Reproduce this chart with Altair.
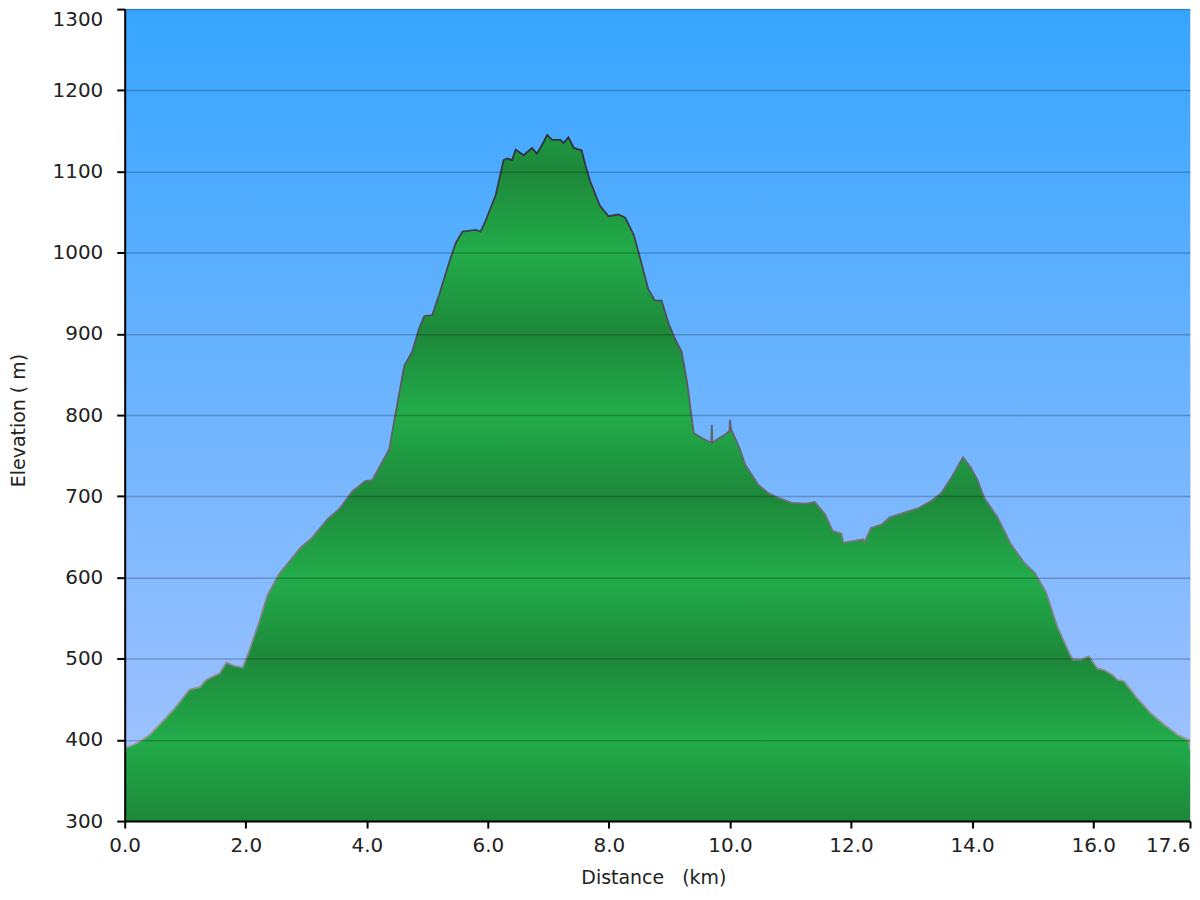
import altair as alt
import pandas as pd
import math

# Distance (km) and elevation (m)
km = [0.00, 0.12, 0.25, 0.41, 0.63, 0.85, 1.07, 1.24, 1.35, 1.57, 1.68, 1.81, 1.95,
      2.06, 2.23, 2.36, 2.55, 2.91, 3.10, 3.35, 3.54, 3.76, 3.98, 4.09, 4.26, 4.37,
      4.45, 4.62, 4.75, 4.86, 4.95, 5.08, 5.19, 5.36, 5.47, 5.58, 5.80, 5.88, 5.96,
      6.13, 6.26, 6.32, 6.40, 6.46, 6.59, 6.73, 6.81, 6.89, 6.98, 7.06, 7.20, 7.25,
      7.33, 7.42, 7.55, 7.61, 7.69, 7.85, 7.99, 8.16, 8.27, 8.41, 8.52, 8.65, 8.76,
      8.87, 8.98, 9.09, 9.20, 9.29, 9.40, 9.53, 9.69, 9.70, 9.71, 9.81, 9.92, 9.99,
      10.00, 10.02, 10.16, 10.25, 10.47, 10.63, 10.80, 11.02, 11.26, 11.40, 11.57,
      11.70, 11.84, 11.87, 12.06, 12.20, 12.22, 12.33, 12.50, 12.64, 12.88, 13.10,
      13.32, 13.49, 13.65, 13.85, 13.98, 14.09, 14.20, 14.42, 14.64, 14.86, 15.03,
      15.22, 15.41, 15.58, 15.66, 15.80, 15.93, 16.07, 16.18, 16.32, 16.40, 16.51,
      16.73, 16.95, 17.17, 17.40, 17.58, 17.60]
elev = [390, 393, 398, 406, 423, 441, 462, 465, 474, 482, 495, 491, 489,
        510, 547, 578, 604, 637, 649, 672, 684, 706, 719, 720, 743, 758,
        792, 861, 878, 906, 922, 923, 947, 988, 1012, 1026, 1028, 1026, 1039,
        1071, 1114, 1116, 1114, 1127, 1120, 1129, 1122, 1132, 1145, 1139, 1139, 1135,
        1142, 1129, 1126, 1108, 1088, 1058, 1045, 1047, 1043, 1022, 992, 955, 941,
        941, 914, 894, 878, 841, 778, 772, 766, 788, 766, 771, 776, 780,
        794, 782, 759, 739, 714, 704, 698, 692, 691, 693, 678,
        657, 654, 643, 645, 647, 643, 661, 665, 674, 680, 685,
        694, 704, 722, 748, 735, 720, 698, 674, 641, 618, 606,
        582, 539, 511, 499, 499, 503, 488, 486, 480, 474, 472,
        451, 433, 419, 406, 400, 388]

x_ticks = [0, 2, 4, 6, 8, 10, 12, 14, 16, 17.6]
y_ticks = [300, 400, 500, 600, 700, 800, 900, 1000, 1100, 1200, 1300]

Y_MIN, Y_MAX = 300, 1300
X_MAX = 17.6
W, H = 1068, 814
FONT = "DejaVu Sans"

BRIGHT = "#22AC4A"
DARK = "#1D883A"

df = pd.DataFrame({"km": km, "elev": elev})


def hex2rgb(h):
    return tuple(int(h[i:i + 2], 16) for i in (1, 3, 5))


def band_color(v):
    # triangle wave: dark at odd hundreds, bright at even hundreds
    h = v / 100.0
    base = math.floor(h)
    frac = h - base
    a, b = (hex2rgb(DARK), hex2rgb(BRIGHT)) if base % 2 == 1 else (hex2rgb(BRIGHT), hex2rgb(DARK))
    c = tuple(round(a[k] + (b[k] - a[k]) * frac) for k in range(3))
    return "#%02x%02x%02x" % c


top = max(elev)
span = top - Y_MIN
stops = [alt.GradientStop(offset=0, color=band_color(top))]
for v in range(1200, Y_MIN - 1, -100):
    if v < top:
        stops.append(alt.GradientStop(offset=(top - v) / span, color=band_color(v)))

area_fill = alt.Gradient(gradient="linear", stops=stops, x1=0, x2=0, y1=0, y2=1)

bg = alt.Chart(alt.Data(values=[{"a": 1}])).mark_rect(
    fill=alt.Gradient(gradient="linear",
                      stops=[alt.GradientStop(offset=0, color="#36A5FF"),
                             alt.GradientStop(offset=1, color="#A8C4FF")],
                      x1=0, x2=0, y1=0, y2=1)
).encode(x=alt.value(0), x2=alt.value(W), y=alt.value(0), y2=alt.value(H))

xscale = alt.Scale(domain=[0, X_MAX], nice=False, zero=False)
yscale = alt.Scale(domain=[Y_MIN, Y_MAX], nice=False, zero=False)

xaxis = alt.Axis(values=x_ticks, format=".1f", title="Distance\u00a0\u00a0\u00a0(km)",
                 grid=False, domainColor="#000", domainWidth=2, tickColor="#000",
                 tickWidth=2, tickSize=7, labelFont=FONT, labelFontSize=20,
                 labelColor="#222", labelPadding=8, labelFlush=False,
                 labelAlign=alt.condition(f"datum.value >= {X_MAX}", alt.value("right"), alt.value("center")),
                 titleFont=FONT, titleFontSize=19, titleFontWeight="normal",
                 titleColor="#222", titleX=530, titleY=57, titleBaseline="middle",
                 zindex=1)
yaxis = alt.Axis(values=y_ticks, format="d", title="Elevation ( m)", grid=True, gridColor="#000",
                 gridOpacity=0.22, gridWidth=1.5, domainColor="#000", domainWidth=2,
                 tickColor="#000", tickWidth=2, tickSize=8, labelFont=FONT,
                 labelFontSize=20, labelColor="#222", labelPadding=14, labelFlush=False,
                 labelBaseline=alt.condition(f"datum.value >= {Y_MAX}", alt.value("top"), alt.value("middle")),
                 titleFont=FONT, titleFontSize=19, titleFontWeight="normal",
                 titleColor="#222", titleX=-106, titleY=412, titleAngle=270,
                 titleBaseline="middle", titleAlign="center", zindex=1)

area = alt.Chart(df).mark_area(fill=area_fill, clip=True, interpolate="linear").encode(
    x=alt.X("km:Q", scale=xscale, axis=xaxis),
    y=alt.Y("elev:Q", scale=yscale, axis=yaxis),
    y2=alt.datum(Y_MIN),
)

line = alt.Chart(df).mark_line(
    stroke=alt.Gradient(gradient="linear",
                        stops=[alt.GradientStop(offset=0, color="#2c2f3a"),
                               alt.GradientStop(offset=1, color="#9a9a9a")],
                        x1=0, x2=0, y1=0, y2=1),
    strokeWidth=1.8, clip=True, interpolate="linear"
).encode(x=alt.X("km:Q", scale=xscale), y=alt.Y("elev:Q", scale=yscale))

chart = alt.layer(bg, area, line).properties(
    width=W, height=H,
    autosize=alt.AutoSizeParams(type="none"),
    padding={"left": 117, "top": 0, "right": 2, "bottom": 67},
).configure_view(stroke=None).configure(background="white")

chart.save("out.html", embed_options={"renderer": "svg", "actions": False})
